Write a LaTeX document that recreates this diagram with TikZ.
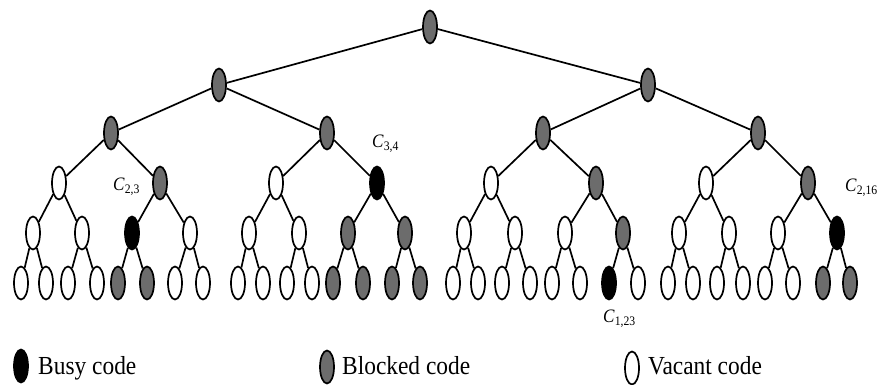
\documentclass[tikz,border=0pt]{standalone}
\usepackage{fontspec}
\setmainfont{Liberation Serif}
\newfontfamily\narrowserif[FakeStretch=0.9]{Liberation Serif}
\usetikzlibrary{shapes.geometric}
\definecolor{blockedgray}{RGB}{108,108,108}
\tikzset{
  code/.style={ellipse, draw=black, line width=1.7pt, minimum width=14pt,
    minimum height=33pt, inner sep=0pt},
  vacant/.style={code, fill=white},
  blocked/.style={code, fill=blockedgray},
  busy/.style={code, fill=black},
  branch/.style={line width=1.7pt},
  codelabel/.style={font=\narrowserif\fontsize{19}{19}\selectfont,
    anchor=base west, inner sep=0pt},
  legendtext/.style={font=\narrowserif\fontsize{26}{26}\selectfont,
    anchor=base west, inner sep=0pt},
}
% OVSF code name C_{k,i}
\newcommand\codename[2]{\textit{C}\raisebox{-0.45ex}{\fontsize{13}{13}\selectfont #1,#2}}

\begin{document}
\begin{tikzpicture}[x=1pt, y=-1pt]
\useasboundingbox (0,0) rectangle (880,385);

% level 0 .. level 5 of the code tree
\node[blocked] (a1) at (430,27) {};
\foreach \x/\s [count=\i] in {219/blocked, 648/blocked}
  \node[\s] (b\i) at (\x,85) {};
\foreach \x/\s [count=\i] in {111/blocked, 327/blocked, 543/blocked, 758/blocked}
  \node[\s] (c\i) at (\x,133) {};
\foreach \x/\s [count=\i] in {59/vacant, 160/blocked, 276/vacant, 377/busy,
    491/vacant, 596/blocked, 706/vacant, 808/blocked}
  \node[\s] (d\i) at (\x,183) {};
\foreach \x/\s [count=\i] in {33/vacant, 82/vacant, 132/busy, 190/vacant,
    249/vacant, 299/vacant, 348/blocked, 405/blocked,
    464/vacant, 515/vacant, 565/vacant, 623/blocked,
    679/vacant, 729/vacant, 778/vacant, 837/busy}
  \node[\s] (e\i) at (\x,233) {};
\foreach \x/\s [count=\i] in {21/vacant, 46/vacant, 68/vacant, 97/vacant,
    118/blocked, 147/blocked, 175/vacant, 203/vacant,
    238/vacant, 263/vacant, 287/vacant, 312/vacant,
    333/blocked, 363/blocked, 392/blocked, 420/blocked,
    453/vacant, 478/vacant, 502/vacant, 530/vacant,
    552/vacant, 580/vacant, 609/busy, 638/vacant,
    668/vacant, 693/vacant, 717/vacant, 743/vacant,
    765/vacant, 793/vacant, 823/blocked, 850/blocked}
  \node[\s] (f\i) at (\x,283) {};

% branches: node i of one level feeds nodes 2i-1 and 2i of the next
\draw[branch] (a1) -- (b1);
\draw[branch] (a1) -- (b2);
\foreach \p/\q/\n in {b/c/2, c/d/4, d/e/8, e/f/16}{
  \foreach \i in {1,...,\n}{
    \pgfmathtruncatemacro\l{2*\i-1}
    \pgfmathtruncatemacro\r{2*\i}
    \draw[branch] (\p\i) -- (\q\l);
    \draw[branch] (\p\i) -- (\q\r);
  }
}

% code names
\node[codelabel] (l34) at (372,147) {\codename{3}{4}};
\node[codelabel] (l23) at (113,190) {\codename{2}{3}};
\node[codelabel] (l216) at (845,191) {\codename{2}{16}};
\node[codelabel] (l123) at (603,322) {\codename{1}{23}};

% legend
\node[busy] (kbusy) at (21,366) {};
\node[legendtext] (tbusy) at (38,374) {Busy code};
\node[blocked] (kblocked) at (327,367) {};
\node[legendtext] (tblocked) at (342,374) {Blocked code};
\node[vacant] (kvacant) at (632,368) {};
\node[legendtext] (tvacant) at (648,374) {Vacant code};
\end{tikzpicture}
\end{document}
